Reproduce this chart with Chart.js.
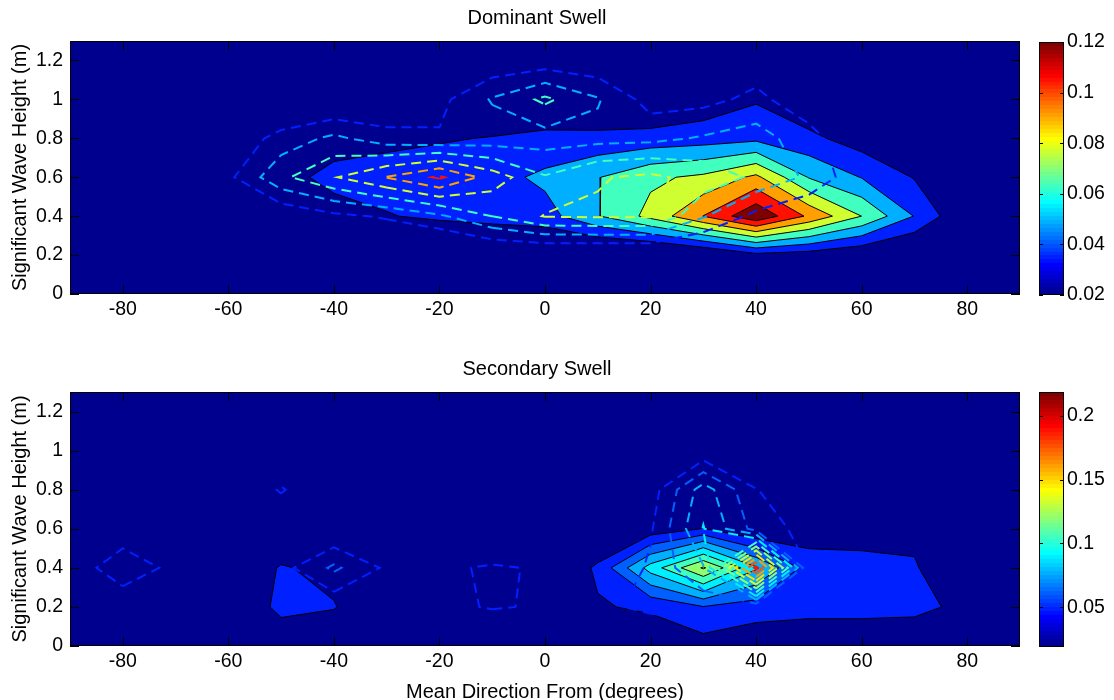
<!DOCTYPE html>
<html>
<head>
<meta charset="utf-8">
<script src="https://cdn.jsdelivr.net/npm/chart.js@4/dist/chart.umd.min.js"></script>
<style>
  html, body { margin: 0; padding: 0; background: #fff; width: 1114px; height: 700px; overflow: hidden; }
  .panel { position: absolute; }
</style>
</head>
<body>
<div class="panel" style="left:0;top:0;width:1074px;height:330px"><canvas id="domMain" width="1074" height="330"></canvas></div>
<div class="panel" style="left:1039px;top:0;width:75px;height:315px"><canvas id="domBar" width="75" height="315"></canvas></div>
<div class="panel" style="left:0;top:350px;width:1074px;height:360px"><canvas id="secMain" width="1074" height="360"></canvas></div>
<div class="panel" style="left:1039px;top:350px;width:75px;height:317px"><canvas id="secBar" width="75" height="317"></canvas></div>
<script>
// ---- grid nodes (mean direction in degrees, significant wave height in m) ----
const directions = [-90, -80, -70, -60, -50, -40, -30, -20, -10, 0, 10, 20, 30, 40, 50, 60, 70, 80, 90];
const heights = [0, 0.2, 0.4, 0.6, 0.8, 1.0, 1.2];
const directionTicks = [-80, -60, -40, -20, 0, 20, 40, 60, 80];
const heightTicks = [0, 0.2, 0.4, 0.6, 0.8, 1, 1.2];

// ---- dominant swell ----
const domRange = [0.02, 0.12];
const domLevels = [0.0343, 0.0486, 0.0629, 0.0771, 0.0914, 0.1057, 0.12];
const domBarTicks = [0.02, 0.04, 0.06, 0.08, 0.1, 0.12];
// filled field, one row per height (0 m upward), one column per direction
const domFilled = [
  [0.006, 0.006, 0.006, 0.006, 0.006, 0.007, 0.007, 0.008, 0.008, 0.008, 0.009, 0.010, 0.012, 0.015, 0.013, 0.011, 0.009, 0.007, 0.006],
  [0.008, 0.008, 0.008, 0.008, 0.008, 0.012, 0.012, 0.012, 0.0115, 0.012, 0.010, 0.009, 0.0164, 0.030, 0.027, 0.0208, 0.015, 0.010, 0.008],
  [0.008, 0.010, 0.012, 0.015, 0.022, 0.029, 0.0335, 0.037, 0.040, 0.0426, 0.062, 0.0814, 0.106, 0.132, 0.103, 0.077, 0.048, 0.020, 0.012],
  [0.008, 0.010, 0.012, 0.020, 0.030, 0.038, 0.040, 0.042, 0.0431, 0.052, 0.0622, 0.0744, 0.080, 0.0946, 0.062, 0.048, 0.0334, 0.018, 0.012],
  [0.008, 0.010, 0.012, 0.018, 0.025, 0.0288, 0.031, 0.033, 0.035, 0.037, 0.038, 0.040, 0.042, 0.045, 0.0379, 0.027, 0.018, 0.012, 0.010],
  [0.008, 0.008, 0.010, 0.012, 0.015, 0.018, 0.020, 0.020, 0.020, 0.0244, 0.020, 0.0176, 0.025, 0.0328, 0.022, 0.015, 0.012, 0.010, 0.008],
  [0.006, 0.006, 0.007, 0.008, 0.010, 0.012, 0.013, 0.014, 0.015, 0.016, 0.015, 0.014, 0.016, 0.020, 0.016, 0.012, 0.010, 0.008, 0.006]
];
// dashed-contour field
const domDashed = [
  [0.005, 0.005, 0.005, 0.005, 0.005, 0.005, 0.005, 0.005, 0.005, 0.005, 0.005, 0.005, 0.005, 0.005, 0.005, 0.005, 0.005, 0.005, 0.005],
  [0.005, 0.006, 0.007, 0.008, 0.010, 0.012, 0.015, 0.010, 0.015, 0.015, 0.015, 0.015, 0.012, 0.012, 0.010, 0.008, 0.006, 0.005, 0.005],
  [0.005, 0.006, 0.008, 0.012, 0.022, 0.031, 0.036, 0.046, 0.063, 0.078, 0.079, 0.079, 0.050, 0.030, 0.020, 0.012, 0.008, 0.006, 0.005],
  [0.005, 0.008, 0.012, 0.031, 0.060, 0.076, 0.092, 0.108, 0.085, 0.064, 0.076, 0.080, 0.072, 0.060, 0.046, 0.023, 0.010, 0.006, 0.005],
  [0.005, 0.007, 0.010, 0.022, 0.040, 0.052, 0.040, 0.036, 0.040, 0.042, 0.044, 0.045, 0.050, 0.055, 0.040, 0.020, 0.008, 0.006, 0.005],
  [0.005, 0.006, 0.008, 0.010, 0.013, 0.016, 0.020, 0.030, 0.050, 0.066, 0.050, 0.028, 0.030, 0.038, 0.025, 0.012, 0.006, 0.005, 0.005],
  [0.005, 0.005, 0.006, 0.008, 0.010, 0.012, 0.015, 0.018, 0.022, 0.025, 0.022, 0.018, 0.020, 0.026, 0.015, 0.008, 0.005, 0.005, 0.005]
];

// ---- secondary swell ----
const secRange = [0.0188, 0.2188];
const secLevels = [0.0474, 0.0617, 0.0760, 0.0902, 0.1045, 0.1188, 0.1331, 0.1474, 0.1617, 0.1760, 0.1902, 0.2045];
const secBarTicks = [0.05, 0.1, 0.15, 0.2];
const secFilled = [
  [0.020, 0.020, 0.020, 0.025, 0.035, 0.032, 0.025, 0.020, 0.020, 0.020, 0.020, 0.035, 0.041, 0.036, 0.032, 0.032, 0.034, 0.020, 0.020],
  [0.020, 0.022, 0.025, 0.030, 0.052, 0.0485, 0.030, 0.025, 0.025, 0.025, 0.046, 0.050, 0.061, 0.055, 0.054, 0.054, 0.052, 0.043, 0.025],
  [0.020, 0.022, 0.025, 0.030, 0.049, 0.042, 0.030, 0.025, 0.025, 0.030, 0.050, 0.0964, 0.135, 0.092, 0.055, 0.052, 0.050, 0.020, 0.020],
  [0.020, 0.020, 0.022, 0.025, 0.030, 0.030, 0.025, 0.025, 0.025, 0.025, 0.030, 0.038, 0.048, 0.0325, 0.0395, 0.0415, 0.0409, 0.020, 0.020],
  [0.020, 0.020, 0.020, 0.020, 0.020, 0.020, 0.020, 0.020, 0.020, 0.020, 0.020, 0.020, 0.020, 0.020, 0.020, 0.020, 0.020, 0.020, 0.020],
  [0.020, 0.020, 0.020, 0.020, 0.020, 0.020, 0.020, 0.020, 0.020, 0.020, 0.020, 0.020, 0.020, 0.020, 0.020, 0.020, 0.020, 0.020, 0.020],
  [0.020, 0.020, 0.020, 0.020, 0.020, 0.020, 0.020, 0.020, 0.020, 0.020, 0.020, 0.020, 0.020, 0.020, 0.020, 0.020, 0.020, 0.020, 0.020]
];
const secDashed = [
  [0.020, 0.025, 0.025, 0.025, 0.030, 0.030, 0.030, 0.030, 0.030, 0.030, 0.030, 0.035, 0.038, 0.035, 0.030, 0.030, 0.030, 0.025, 0.020],
  [0.025, 0.0377, 0.030, 0.030, 0.035, 0.0367, 0.035, 0.044, 0.0485, 0.046, 0.045, 0.050, 0.052, 0.050, 0.035, 0.030, 0.035, 0.030, 0.020],
  [0.0388, 0.056, 0.0435, 0.035, 0.042, 0.0645, 0.0448, 0.045, 0.049, 0.046, 0.030, 0.050, 0.075, 0.195, 0.045, 0.040, 0.048, 0.030, 0.020],
  [0.025, 0.0388, 0.030, 0.030, 0.032, 0.032, 0.030, 0.030, 0.030, 0.030, 0.030, 0.0455, 0.091, 0.056, 0.0417, 0.035, 0.030, 0.025, 0.020],
  [0.020, 0.025, 0.025, 0.030, 0.049, 0.030, 0.025, 0.025, 0.025, 0.025, 0.025, 0.040, 0.0832, 0.048, 0.035, 0.030, 0.025, 0.020, 0.020],
  [0.020, 0.020, 0.020, 0.025, 0.030, 0.025, 0.020, 0.020, 0.020, 0.020, 0.020, 0.025, 0.0355, 0.025, 0.025, 0.020, 0.020, 0.020, 0.020],
  [0.020, 0.020, 0.020, 0.020, 0.020, 0.020, 0.020, 0.020, 0.020, 0.020, 0.020, 0.020, 0.020, 0.020, 0.020, 0.020, 0.020, 0.020, 0.020]
];

// ---- colour map: 64-step jet ----
function jet64(i) {
  const x = (i + 1) / 64;
  const c = v => Math.round(255 * Math.max(0, Math.min(1, v)));
  return 'rgb(' + c(1.5 - Math.abs(4 * x - 3)) + ',' + c(1.5 - Math.abs(4 * x - 2)) + ',' + c(1.5 - Math.abs(4 * x - 1)) + ')';
}
function levelColour(v, range) {
  const f = (v - range[0]) / (range[1] - range[0]);
  return jet64(Math.min(63, Math.max(0, Math.floor(f * 64 + 1e-9))));
}

// ---- marching squares: iso-lines of a gridded field, chained into polylines ----
function isolines(z, xs, ys, level) {
  const at = (i, j) => z[j][i];
  const hp = (i, j) => {
    const a = at(i, j), b = at(i + 1, j), t = (level - a) / (b - a);
    return { k: 'h' + i + '_' + j, x: xs[i] + t * (xs[i + 1] - xs[i]), y: ys[j] };
  };
  const vp = (i, j) => {
    const a = at(i, j), b = at(i, j + 1), t = (level - a) / (b - a);
    return { k: 'v' + i + '_' + j, x: xs[i], y: ys[j] + t * (ys[j + 1] - ys[j]) };
  };
  const segs = [];
  for (let j = 0; j < ys.length - 1; j++) {
    for (let i = 0; i < xs.length - 1; i++) {
      const bl = at(i, j), br = at(i + 1, j), tr = at(i + 1, j + 1), tl = at(i, j + 1);
      const code = (bl >= level ? 1 : 0) | (br >= level ? 2 : 0) | (tr >= level ? 4 : 0) | (tl >= level ? 8 : 0);
      if (code === 0 || code === 15) continue;
      const B = () => hp(i, j), R = () => vp(i + 1, j), T = () => hp(i, j + 1), L = () => vp(i, j);
      const centreHigh = (bl + br + tr + tl) / 4 >= level;
      switch (code) {
        case 1: case 14: segs.push([L(), B()]); break;
        case 2: case 13: segs.push([B(), R()]); break;
        case 3: case 12: segs.push([L(), R()]); break;
        case 4: case 11: segs.push([R(), T()]); break;
        case 6: case 9: segs.push([B(), T()]); break;
        case 7: case 8: segs.push([L(), T()]); break;
        case 5:
          if (centreHigh) { segs.push([B(), R()]); segs.push([L(), T()]); }
          else { segs.push([L(), B()]); segs.push([R(), T()]); }
          break;
        case 10:
          if (centreHigh) { segs.push([L(), B()]); segs.push([R(), T()]); }
          else { segs.push([B(), R()]); segs.push([L(), T()]); }
          break;
      }
    }
  }
  const byKey = new Map();
  segs.forEach((s, ix) => s.forEach(p => {
    if (!byKey.has(p.k)) byKey.set(p.k, []);
    byKey.get(p.k).push(ix);
  }));
  const used = new Array(segs.length).fill(false);
  const extend = arr => {
    for (;;) {
      const end = arr[arr.length - 1];
      const next = (byKey.get(end.k) || []).find(ix => !used[ix]);
      if (next === undefined) break;
      used[next] = true;
      const s = segs[next];
      arr.push(s[0].k === end.k ? s[1] : s[0]);
    }
  };
  const lines = [];
  for (let s0 = 0; s0 < segs.length; s0++) {
    if (used[s0]) continue;
    used[s0] = true;
    const pts = [segs[s0][0], segs[s0][1]];
    extend(pts);
    pts.reverse();
    extend(pts);
    const closed = pts.length > 2 && pts[0].k === pts[pts.length - 1].k;
    lines.push({ closed, pts: pts.map(p => ({ x: p.x, y: p.y })) });
  }
  return lines;
}

// filled bands (black outlines) followed by dashed contours of the second field
function contourDatasets(filled, dashed, levels, range) {
  const sets = [];
  levels.forEach(lv => {
    isolines(filled, directions, heights, lv).forEach(line => {
      sets.push({
        data: line.pts, showLine: true, fill: line.closed ? 'shape' : false,
        backgroundColor: levelColour(lv, range), borderColor: '#000', borderWidth: 1,
        pointRadius: 0, pointHoverRadius: 0, tension: 0
      });
    });
  });
  levels.forEach(lv => {
    isolines(dashed, directions, heights, lv).forEach(line => {
      sets.push({
        data: line.pts, showLine: true, fill: false,
        borderColor: levelColour(lv, range), borderWidth: 2, borderDash: [10, 6],
        pointRadius: 0, pointHoverRadius: 0, tension: 0
      });
    });
  });
  const n = sets.length;
  sets.forEach((s, i) => { s.order = n - i; });
  return sets;
}

const fmt = v => String(+Number(v).toFixed(4));
const FONT = "'Liberation Sans', Arial, Helvetica, sans-serif";
Chart.defaults.font.family = FONT;
Chart.defaults.color = '#000';

// navy background, axes box and inward tick marks
const framePlugin = {
  id: 'frame',
  beforeDatasetsDraw(chart) {
    const { ctx, chartArea: a } = chart;
    ctx.save();
    ctx.fillStyle = jet64(0);
    ctx.fillRect(a.left, a.top, a.right - a.left, a.bottom - a.top);
    ctx.restore();
  },
  afterDatasetsDraw(chart) {
    const { ctx, chartArea: a, scales } = chart;
    const len = 9;
    ctx.save();
    ctx.strokeStyle = '#000';
    ctx.lineWidth = 1;
    ctx.beginPath();
    scales.x.ticks.forEach(t => {
      const p = Math.round(scales.x.getPixelForValue(t.value)) + 0.5;
      ctx.moveTo(p, a.bottom); ctx.lineTo(p, a.bottom - len);
      ctx.moveTo(p, a.top); ctx.lineTo(p, a.top + len);
    });
    scales.y.ticks.forEach(t => {
      const p = Math.round(scales.y.getPixelForValue(t.value)) + 0.5;
      ctx.moveTo(a.left, p); ctx.lineTo(a.left + len, p);
      ctx.moveTo(a.right, p); ctx.lineTo(a.right - len, p);
    });
    ctx.stroke();
    ctx.strokeRect(Math.round(a.left) + 0.5, Math.round(a.top) + 0.5, Math.round(a.right - a.left) - 1, Math.round(a.bottom - a.top) - 1);
    ctx.restore();
  }
};

function mainChart(id, titleText, datasets, titlePad, xAxisHeight, xTitle) {
  return new Chart(document.getElementById(id), {
    type: 'scatter',
    data: { datasets },
    options: {
      responsive: false, devicePixelRatio: 1, animation: false, events: [],
      layout: { padding: 0 },
      plugins: {
        legend: { display: false }, tooltip: { enabled: false },
        title: { display: true, text: titleText, color: '#000', font: { size: 20, weight: 'normal' }, padding: titlePad }
      },
      scales: {
        x: {
          type: 'linear', min: -90, max: 90,
          afterBuildTicks: s => { s.ticks = directionTicks.map(v => ({ value: v })); },
          afterFit: s => { s.height = xAxisHeight; },
          grid: { display: false, drawTicks: false }, border: { display: false },
          ticks: { font: { size: 19.5 }, padding: 4, maxRotation: 0, autoSkip: false, callback: fmt },
          title: xTitle
            ? { display: true, text: xTitle, font: { size: 20 }, color: '#000', padding: { top: 0, bottom: 6 } }
            : { display: false }
        },
        y: {
          type: 'linear', position: 'left', min: 0, max: 1.3,
          afterBuildTicks: s => { s.ticks = heightTicks.map(v => ({ value: v })); },
          afterFit: s => { s.width = 70; },
          grid: { display: false, drawTicks: false }, border: { display: false },
          ticks: { font: { size: 19.5 }, padding: 7, autoSkip: false, callback: fmt },
          title: { display: true, text: 'Significant Wave Height (m)', font: { size: 20 }, color: '#000', padding: { top: 8, bottom: 0 } }
        },
        // empty strip on the right, leaves room for the colour bar
        gutter: {
          type: 'linear', position: 'right', min: 0, max: 1.3,
          afterFit: s => { s.width = 54; },
          grid: { display: false, drawTicks: false }, border: { display: false },
          ticks: { display: false }
        }
      }
    },
    plugins: [framePlugin]
  });
}

// colour bar: one floating bar spanning the colour range, painted with the jet steps
const barFramePlugin = {
  id: 'barFrame',
  afterDatasetsDraw(chart) {
    const { ctx, chartArea: a, scales } = chart;
    ctx.save();
    ctx.strokeStyle = '#000';
    ctx.lineWidth = 1;
    ctx.beginPath();
    scales.y.ticks.forEach(t => {
      const p = Math.round(scales.y.getPixelForValue(t.value)) + 0.5;
      ctx.moveTo(a.left, p); ctx.lineTo(a.left + 4, p);
      ctx.moveTo(a.right, p); ctx.lineTo(a.right - 4, p);
    });
    ctx.stroke();
    ctx.strokeRect(Math.round(a.left) + 0.5, Math.round(a.top) + 0.5, Math.round(a.right - a.left) - 1, Math.round(a.bottom - a.top) - 1);
    ctx.restore();
  }
};
function barGradient(chart, range) {
  const y = chart.scales && chart.scales.y;
  if (!y) return jet64(0);
  const p0 = y.getPixelForValue(range[0]), p1 = y.getPixelForValue(range[1]);
  if (!isFinite(p0) || !isFinite(p1) || p0 === p1) return jet64(0);
  const g = chart.ctx.createLinearGradient(0, p0, 0, p1);
  for (let i = 0; i < 64; i++) {
    g.addColorStop(i / 64, jet64(i));
    g.addColorStop(Math.min(1, (i + 1) / 64 - 1e-4), jet64(i));
  }
  return g;
}
function colourBar(id, range, ticks) {
  return new Chart(document.getElementById(id), {
    type: 'bar',
    data: {
      labels: [''],
      datasets: [{
        data: [[range[0], range[1]]],
        backgroundColor: c => barGradient(c.chart, range),
        borderWidth: 0, barPercentage: 1, categoryPercentage: 1
      }]
    },
    options: {
      responsive: false, devicePixelRatio: 1, animation: false, events: [],
      layout: { padding: { left: 0, right: 0, top: 42, bottom: 20 } },
      plugins: { legend: { display: false }, tooltip: { enabled: false } },
      scales: {
        x: { display: false },
        y: {
          position: 'right', min: range[0], max: range[1],
          afterBuildTicks: s => { s.ticks = ticks.map(v => ({ value: v })); },
          afterFit: s => { s.width = 50; },
          grid: { display: false, drawTicks: false }, border: { display: false },
          ticks: { font: { size: 19.5 }, padding: 3, autoSkip: false, callback: fmt }
        }
      }
    },
    plugins: [barFramePlugin]
  });
}

mainChart('domMain', 'Dominant Swell', contourDatasets(domFilled, domDashed, domLevels, domRange),
  { top: 6, bottom: 11 }, 36, null);
const domBar = colourBar('domBar', domRange, domBarTicks);
mainChart('secMain', 'Secondary Swell', contourDatasets(secFilled, secDashed, secLevels, secRange),
  { top: 7, bottom: 11 }, 64, 'Mean Direction From (degrees)');
const secBar = colourBar('secBar', secRange, secBarTicks);
// second pass so the gradient is built against the laid-out scale
domBar.update();
secBar.update();
</script>
</body>
</html>
